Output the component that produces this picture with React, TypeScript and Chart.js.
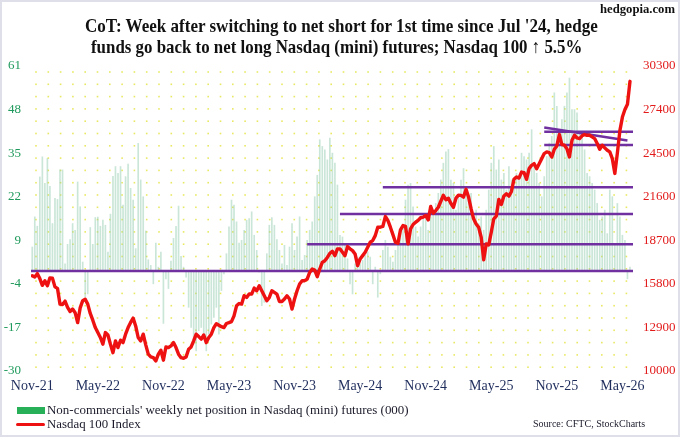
import React, { useEffect, useLayoutEffect, useRef, useState } from "react";
import { Chart, registerables } from "chart.js";

Chart.register(...registerables);

// ---------- data ----------
const X_TICK_INDEX = [0, 26, 52, 78, 104, 130, 156, 182, 208, 234];
const X_TICK_LABELS = ["Nov-21", "May-22", "Nov-22", "May-23", "Nov-23", "May-24", "Nov-24", "May-25", "Nov-25", "May-26"];
const LEFT_TICKS = [-30, -17, -4, 9, 22, 35, 48, 61];
const RIGHT_TICKS = [10000, 12900, 15800, 18700, 21600, 24500, 27400, 30300];

// Non-commercials' weekly net position (000), weekly from Nov 2021
const NET_POSITION = [
  7.0, 16.0, 13.2, 27.9, 33.9, 26.0, 33.4, 25.1, 14.0, 21.5,
  21.2, 30.0, 30.0, 2.0, 7.8, 9.2, 14.0, 12.0, 26.4, 19.0,
  2.5, -8.0, -7.0, 12.8, 7.8, 15.8, 15.9, 13.2, 15.0, 13.5,
  5.5, 16.8, 28.1, 31.0, 29.0, 31.0, 19.5, 28.0, 31.7, 24.5,
  21.0, 6.5, 37.9, 27.0, 22.0, 11.8, 3.2, 1.5, -4.0, 8.2,
  1.0, 5.5, -15.8, -2.5, -5.4, 2.8, 9.6, 13.2, 19.2, 4.2,
  1.0, -2.0, -11.0, -17.0, -22.0, -24.0, -18.0, -17.0, -20.0, -24.0,
  -19.0, -16.0, -14.0, -11.0, -19.0, -6.0, -1.0, 5.0, 13.0, 21.0,
  19.5, 14.5, 8.2, 9.0, 12.0, 15.0, 15.5, 17.5, 10.5, 6.0,
  -0.5, -10.5, -9.5, 5.0, 13.5, 15.8, 13.5, 9.2, 6.0, 2.0,
  7.5, 1.5, 7.0, 14.0, 6.0, 10.0, 16.0, 3.0, 4.5, 9.0,
  12.0, 14.5, 22.0, 28.4, 39.0, 37.0, 36.0, 33.0, 39.5, 35.0,
  32.0, 25.5, 10.5, 10.0, 8.0, 3.5, -4.0, -7.0, 2.0, 4.0,
  2.0, 3.0, 4.5, 5.5, 4.0, -4.0, 1.0, -8.0, -1.0, 6.0,
  9.0, 7.0, 4.0, 2.5, 6.0, 9.0, 12.0, 13.0, 21.0, 25.5,
  26.0, 19.0, 13.0, 10.0, 13.0, 16.0, 17.0, 12.0, 16.0, 18.0,
  20.0, 23.0, 27.0, 32.0, 35.4, 36.1, 27.0, 26.0, 18.0, 22.0,
  27.0, 30.4, 25.0, 21.0, 23.0, 16.0, 18.0, 14.0, 16.0, 12.0,
  18.0, 24.0, 32.0, 37.0, 30.0, 33.0, 27.0, 29.0, 24.0, 31.0,
  27.0, 25.0, 29.0, 28.0, 35.0, 34.0, 33.0, 35.0, 42.0, 31.0,
  29.0, 26.0, 22.0, 28.0, 34.0, 38.0, 40.0, 53.0, 49.0, 41.0,
  45.0, 49.0, 53.0, 57.4, 48.0, 48.0, 47.0, 41.0, 41.0, 36.0,
  29.0, 28.0, 26.0, 24.0, 20.0, 15.0, 16.0, 18.0, 11.0, 24.0,
  22.0, 8.0, 20.0, 16.0, 10.5, 9.0, -2.5, 1.0,
];

// Nasdaq 100 index, weekly
const NASDAQ_100 = [
  16340, 16250, 16480, 16150, 15700, 16000, 15680, 16200, 16180, 15600,
  15500, 14450, 14420, 14650, 14230, 13960, 14120, 13880, 13220, 14200,
  14680, 14780, 14450, 13830, 13380, 12890, 12560, 12230, 11780, 12560,
  12400, 11780, 11220, 12000, 11560, 12050, 11890, 12450, 12890, 13230,
  13520, 13000, 12230, 12000, 12450, 11740, 11120, 10940, 10890, 10670,
  11120, 11380, 10720, 11600, 11560, 11670, 11890, 11560, 11120, 10890,
  10850, 10940, 11450, 11600, 12000, 12450, 12290, 12120, 12400, 11890,
  12230, 12450, 12890, 13150, 13050, 12950, 12890, 13160, 13220, 13290,
  13670, 14340, 14490, 14450, 15010, 14900, 15120, 15120, 15520, 15340,
  15680, 15340, 15010, 14670, 14900, 15340, 15230, 15120, 14630, 14630,
  14790, 15010, 14790, 14120, 14790, 15340, 15790, 16010, 16010, 16120,
  16560, 16790, 16720, 16280, 16790, 17230, 17340, 17560, 17830, 17970,
  17680, 18130, 18130, 17900, 17680, 18280, 18130, 18010, 17790, 17010,
  17460, 17680, 17900, 18230, 18570, 18680, 19010, 19570, 19570, 19620,
  20280, 20020, 19570, 19080, 18570, 18500, 19390, 19680, 19620, 18460,
  19460, 19750, 19900, 20020, 20200, 20240, 20350, 20060, 20950, 20500,
  20680, 20900, 21300, 21690, 21400, 21500, 21150, 20900, 21500, 21700,
  21690, 21575, 22090, 21575, 20800, 20130, 19790, 19570, 18900, 17400,
  18460, 18390, 19235, 20130, 20310, 21420, 21085, 21640, 21800, 21640,
  21950, 22755, 22910, 22840, 23240, 23200, 22755, 23470, 23690, 23800,
  23470, 23800, 24135, 24470, 24580, 24540, 24245, 24760, 24980, 25740,
  25070, 25030, 24800, 24245, 25360, 25690, 25510, 25470, 25650, 25740,
  25690, 25690, 25580, 25470, 25140, 24760, 25030, 24850, 24690, 24580,
  24135, 23150, 24500, 26000, 26900, 27400, 27750, 29280,
];

// Support/resistance levels on the index: start week and level
const LEVEL_START = [-0.5, 109, 122, 139, 203, 203];
const LEVEL_VALUE = [16660, 18430, 20450, 22230, 25040, 25930];
// Falling trend line: [week, level] at both ends
const TREND_FROM = [203, 26200];
const TREND_TO = [236, 25340];

const X_MIN = -0.5;
const X_MAX = 238.2;

const SERIF = "'Liberation Serif', 'Times New Roman', serif";

const dotPlugin = {
  id: "dotGrid",
  beforeDatasetsDraw(chart: any) {
    const { ctx, chartArea } = chart;
    const { left, right, top, bottom } = chartArea;
    ctx.save();
    ctx.fillStyle = "rgba(228,228,70,0.85)";
    const step = 12.3;
    for (let y = top + 6; y < bottom; y += step) {
      for (let x = left + 5; x < right; x += step) {
        ctx.fillRect(x - 0.8, y - 0.8, 1.6, 1.6);
      }
    }
    ctx.restore();
  },
};

function FitText(props: {
  text: string;
  left: number;
  top: number;
  width: number;
  size: number;
  bold?: boolean;
  color?: string;
}) {
  const { text, left, top, width, size, bold, color } = props;
  const ref = useRef<HTMLSpanElement>(null);
  const [scale, setScale] = useState(1);
  useLayoutEffect(() => {
    const measure = () => {
      const el = ref.current;
      if (el) {
        const w = el.offsetWidth;
        if (w > 0) setScale(width / w);
      }
    };
    measure();
    const f: any = (document as any).fonts;
    if (f && f.ready) f.ready.then(measure);
  }, [text, width]);
  return (
    <div
      style={{
        position: "absolute",
        left,
        top,
        whiteSpace: "nowrap",
        fontFamily: SERIF,
        fontSize: size,
        fontWeight: bold ? "bold" : "normal",
        lineHeight: `${size}px`,
        color: color || "#111",
      }}
    >
      <span
        ref={ref}
        style={{ display: "inline-block", transform: `scaleX(${scale})`, transformOrigin: "0 0" }}
      >
        {text}
      </span>
    </div>
  );
}

export default function App() {
  const canvasRef = useRef<HTMLCanvasElement>(null);

  useEffect(() => {
    const canvas = canvasRef.current;
    if (!canvas) return;

    const levelSets = LEVEL_VALUE.map((v, k) => ({
      type: "line" as const,
      label: `level ${v}`,
      data: [
        { x: LEVEL_START[k], y: v },
        { x: X_MAX, y: v },
      ],
      yAxisID: "y1",
      borderColor: "#7030a0",
      borderWidth: 2.5,
      pointRadius: 0,
      order: 1,
    }));

    const chart = new Chart(canvas, {
      type: "bar",
      data: {
        datasets: [
          {
            type: "line",
            label: "Nasdaq 100 Index",
            data: NASDAQ_100.map((v, i) => ({ x: i, y: v })),
            yAxisID: "y1",
            borderColor: "#ee1111",
            borderWidth: 3.4,
            pointRadius: 0,
            tension: 0,
            borderJoinStyle: "round",
            borderCapStyle: "round",
            order: 0,
          },
          ...levelSets,
          {
            type: "line",
            label: "trend",
            data: [
              { x: TREND_FROM[0], y: TREND_FROM[1] },
              { x: TREND_TO[0], y: TREND_TO[1] },
            ],
            yAxisID: "y1",
            borderColor: "#7030a0",
            borderWidth: 2.5,
            pointRadius: 0,
            order: 1,
          },
          {
            type: "bar",
            label: "Non-commercials' weekly net position in Nasdaq (mini) futures (000)",
            data: NET_POSITION.map((v, i) => ({ x: i, y: v })),
            yAxisID: "y",
            backgroundColor: "rgba(150,205,178,0.5)",
            barThickness: 1,
            order: 3,
          },
        ] as any,
      },
      options: {
        responsive: false,
        animation: false,
        layout: { padding: { top: 66, left: 0, right: 0, bottom: 0 } },
        plugins: {
          legend: { display: false },
          tooltip: { enabled: false },
          title: { display: false },
        },
        scales: {
          x: {
            type: "linear",
            min: X_MIN,
            max: X_MAX,
            offset: false,
            grid: { display: false, drawTicks: false, offset: false },
            border: { display: false },
            afterBuildTicks: (s: any) => {
              s.ticks = X_TICK_INDEX.map((v) => ({ value: v }));
            },
            afterFit: (s: any) => {
              s.height = 437 - 371;
            },
            ticks: {
              autoSkip: false,
              maxRotation: 0,
              padding: 7,
              color: "#1f2d5c",
              font: { family: SERIF, size: 14 },
              callback: (v: any) => {
                const k = X_TICK_INDEX.indexOf(Number(v));
                return k >= 0 ? X_TICK_LABELS[k] : "";
              },
            },
          },
          y: {
            position: "left",
            min: LEFT_TICKS[0],
            max: LEFT_TICKS[LEFT_TICKS.length - 1],
            grid: { display: false, drawTicks: false },
            border: { display: false },
            afterBuildTicks: (s: any) => {
              s.ticks = LEFT_TICKS.map((v) => ({ value: v }));
            },
            afterFit: (s: any) => {
              s.width = 31;
            },
            ticks: {
              padding: 10,
              color: "#1f9a5c",
              font: { family: SERIF, size: 13 },
            },
          },
          y1: {
            position: "right",
            min: RIGHT_TICKS[0],
            max: RIGHT_TICKS[RIGHT_TICKS.length - 1],
            grid: { display: false, drawTicks: false },
            border: { display: false },
            afterBuildTicks: (s: any) => {
              s.ticks = RIGHT_TICKS.map((v) => ({ value: v }));
            },
            afterFit: (s: any) => {
              s.width = 680 - 633;
            },
            ticks: {
              padding: 10,
              color: "#e21a1a",
              font: { family: SERIF, size: 13 },
              callback: (v: any) => String(v),
            },
          },
        },
      } as any,
      plugins: [dotPlugin],
    });

    return () => chart.destroy();
  }, []);

  return (
    <div
      style={{
        position: "absolute",
        left: 0,
        top: 0,
        width: 680,
        height: 437,
        background: "#ffffff",
        overflow: "hidden",
      }}
    >
      <canvas
        ref={canvasRef}
        width={680}
        height={437}
        style={{ position: "absolute", left: 0, top: 0, width: 680, height: 437 }}
      />
      <FitText text="hedgopia.com" left={600} top={3} width={75} size={12} bold />
      <FitText
        text="CoT: Week after switching to net short for 1st time since Jul '24, hedge"
        left={85}
        top={16}
        width={513}
        size={19}
        bold
      />
      <FitText
        text="funds go back to net long Nasdaq (mini) futures; Nasdaq 100 ↑ 5.5%"
        left={91}
        top={37}
        width={491}
        size={19}
        bold
      />
      <div
        style={{
          position: "absolute",
          left: 16.5,
          top: 407,
          width: 28,
          height: 6.5,
          background: "#27b058",
        }}
      />
      <div
        style={{
          position: "absolute",
          left: 16,
          top: 422.8,
          width: 29,
          height: 3,
          borderRadius: 2,
          background: "#ee1111",
        }}
      />
      <FitText
        text="Non-commercials' weekly net position in Nasdaq (mini) futures (000)"
        left={47}
        top={403}
        width={362}
        size={13}
        color="#1a1a2a"
      />
      <FitText text="Nasdaq 100 Index" left={47} top={417} width={94} size={13} color="#1a1a2a" />
      <FitText text="Source: CFTC, StockCharts" left={533} top={417.5} width={112} size={11} color="#1a1a2a" />
      <div
        style={{
          position: "absolute",
          left: 0,
          top: 0,
          width: 680,
          height: 437,
          boxSizing: "border-box",
          border: "2px solid #dfdfea",
          pointerEvents: "none",
        }}
      />
    </div>
  );
}
